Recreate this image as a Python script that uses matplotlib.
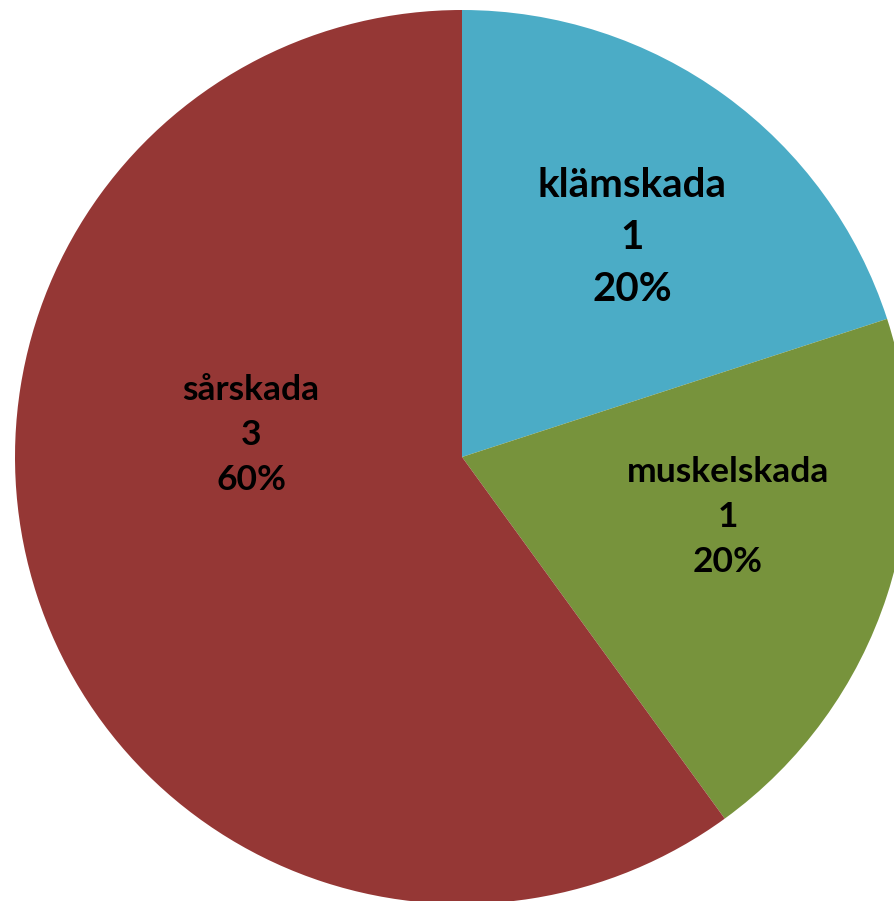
import matplotlib
matplotlib.use("Agg")
import matplotlib.pyplot as plt

# Skadetyper och antal
categories = ["klämskada", "muskelskada", "sårskada"]
counts = [1, 1, 3]
colors = ["#4BACC6", "#77933C", "#953735"]

# Etikettpositioner (i pie-enheter, radie = 1) och storlekar
label_pos = [(0.380, 0.490), (0.595, -0.134), (-0.472, 0.049)]
label_size = [29, 25.5, 25.5]

W, H = 895, 901
cx, cy, r = 462, 457, 447

fig = plt.figure(figsize=(W / 100, H / 100), dpi=100)
ax = fig.add_axes([0, 0, 1, 1])

ax.pie(counts, colors=colors, startangle=90, counterclock=False, radius=1,
       wedgeprops=dict(linewidth=0))

# Ställ in axlarna så att cirkeln hamnar som i originalet
ax.set_xlim(-cx / r, (W - cx) / r)
ax.set_ylim(-(H - cy) / r, cy / r)
ax.set_aspect("equal")
ax.axis("off")

total = sum(counts)
for name, n, (x, y), fs in zip(categories, counts, label_pos, label_size):
    pct = round(100 * n / total)
    ax.text(x, y, f"{name}\n{n}\n{pct}%", ha="center", va="center",
            fontsize=fs, fontweight="bold", family="Lato", linespacing=1.5,
            color="black")

fig.savefig("out.png", dpi=100)
